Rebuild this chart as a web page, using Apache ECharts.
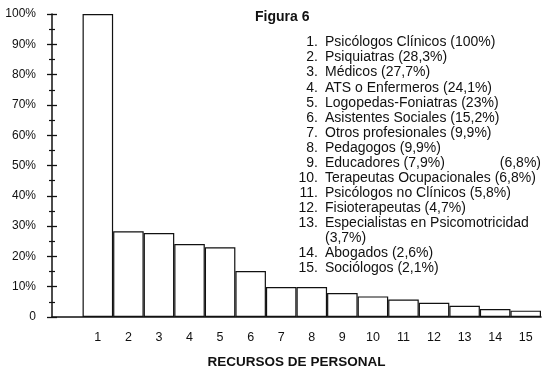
<!DOCTYPE html>
<html>
<head>
<meta charset="utf-8">
<script src="https://cdn.jsdelivr.net/npm/echarts@6/dist/echarts.min.js"></script>
<style>html,body{margin:0;padding:0;background:#fff}#c{width:550px;height:376px}</style>
</head>
<body>
<div id="c"></div>
<script>
const categories = ['1','2','3','4','5','6','7','8','9','10','11','12','13','14','15'];
const values = [100, 28.3, 27.7, 24.1, 23, 15.2, 9.9, 9.9, 7.9, 6.8, 5.8, 4.7, 3.7, 2.6, 2.1];
const names = ['Psicólogos Clínicos','Psiquiatras','Médicos','ATS o Enfermeros','Logopedas-Foniatras',
  'Asistentes Sociales','Otros profesionales','Pedagogos','Educadores','Terapeutas Ocupacionales',
  'Psicólogos no Clínicos','Fisioterapeutas','Especialistas en Psicomotricidad','Abogados','Sociólogos'];
const yTicks = [0,10,20,30,40,50,60,70,80,90,100];
const chartTitle = 'Figura 6';
const xTitle = 'RECURSOS DE PERSONAL';
const strayNote = '(6,8%)';

const FONT = "'Liberation Sans', Arial, Helvetica, sans-serif";
const INK = '#111';
const LF = '14px ' + FONT;
const fmt = v => '(' + String(v).replace('.', ',') + '%)';

const graphics = [];
graphics.push({type:'text', x:255, y:17, style:{text:chartTitle, font:'bold 14px '+FONT, fill:INK, textAlign:'left', textVerticalAlign:'middle'}});
let row = 0;
const rowY = r => 42.5 + r * 15.05;
names.forEach((n, i) => {
  const y = rowY(row);
  graphics.push({type:'text', x:318, y:y, style:{text:(i+1)+'.', font:LF, fill:INK, textAlign:'right', textVerticalAlign:'middle'}});
  if (i === 12) {
    graphics.push({type:'text', x:325, y:y, style:{text:n, font:LF, fill:INK, textAlign:'left', textVerticalAlign:'middle'}});
    row++;
    graphics.push({type:'text', x:325, y:rowY(row), style:{text:fmt(values[i]), font:LF, fill:INK, textAlign:'left', textVerticalAlign:'middle'}});
  } else {
    graphics.push({type:'text', x:325, y:y, style:{text:n + ' ' + fmt(values[i]), font:LF, fill:INK, textAlign:'left', textVerticalAlign:'middle'}});
  }
  if (i === 8) {
    graphics.push({type:'text', x:541, y:y, style:{text:strayNote, font:LF, fill:INK, textAlign:'right', textVerticalAlign:'middle'}});
  }
  row++;
});

const chart = echarts.init(document.getElementById('c'), null, {renderer:'canvas'});
const yBase = {
  type:'value', min:yTicks[0], max:yTicks[yTicks.length-1], interval:yTicks[1]-yTicks[0],
  splitLine:{show:false}
};
chart.setOption({
  animation:false,
  backgroundColor:'#fff',
  grid:{left:52, right:9, top:14, bottom:59, containLabel:false},
  xAxis:{
    type:'category', data:[''].concat(categories), boundaryGap:true,
    axisLine:{lineStyle:{color:INK, width:1.5}},
    axisTick:{show:false},
    axisLabel:{color:INK, fontSize:12.5, fontFamily:FONT, margin:14, interval:0},
    name:xTitle, nameLocation:'middle', nameGap:38,
    nameTextStyle:{color:INK, fontSize:13.5, fontWeight:'bold', fontFamily:FONT}
  },
  yAxis:[
    Object.assign({}, yBase, {
      axisLine:{show:true, lineStyle:{color:INK, width:1.5}},
      axisTick:{show:true, length:5, lineStyle:{color:INK, width:1.3}},
      minorTick:{show:true, splitNumber:2, length:3, lineStyle:{color:INK, width:1.2}},
      axisLabel:{color:INK, fontSize:12, fontFamily:FONT, margin:16, formatter:v => v === 0 ? '0' : v + '%'}
    }),
    Object.assign({}, yBase, {
      position:'left', offset:0,
      axisLine:{show:false},
      axisTick:{show:true, inside:true, length:5, lineStyle:{color:INK, width:1.3}},
      minorTick:{show:true, splitNumber:2, length:3, lineStyle:{color:INK, width:1.2}},
      axisLabel:{show:false}
    })
  ],
  series:[{
    type:'bar', yAxisIndex:0,
    data:[null].concat(values),
    barCategoryGap:'0%',
    itemStyle:{color:'#fff', borderColor:INK, borderWidth:1.2}
  }],
  graphic:graphics
});
</script>
</body>
</html>
